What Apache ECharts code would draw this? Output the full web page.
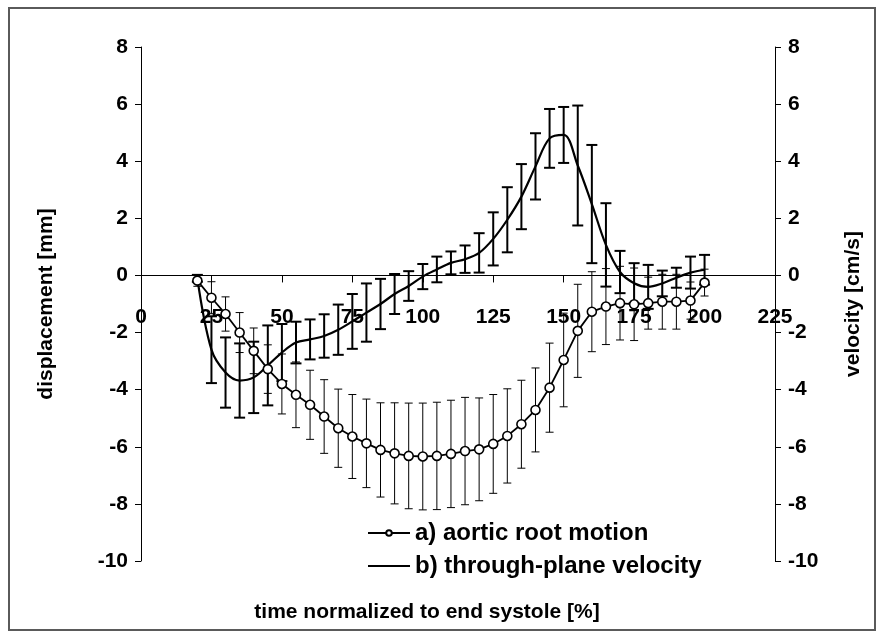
<!DOCTYPE html>
<html>
<head>
<meta charset="utf-8">
<script src="https://cdn.jsdelivr.net/npm/echarts@6/dist/echarts.min.js"></script>
<style>
  html, body { margin: 0; padding: 0; background: #fff; }
  #chart { width: 883px; height: 638px; }
</style>
</head>
<body>
<div id="chart"></div>
<script>
// time axis, % of end systole
const timePct = [20, 25, 30, 35, 40, 45, 50, 55, 60, 65, 70, 75, 80, 85, 90, 95, 100, 105, 110, 115,
                 120, 125, 130, 135, 140, 145, 150, 155, 160, 165, 170, 175, 180, 185, 190, 195, 200];

// a) aortic root motion, displacement [mm]: mean and SD
const motionMean = [-0.18, -0.78, -1.35, -2.0, -2.64, -3.28, -3.80, -4.18, -4.53, -4.94, -5.35, -5.64, -5.88,
                    -6.11, -6.23, -6.32, -6.34, -6.32, -6.25, -6.15, -6.09, -5.90, -5.62, -5.21, -4.71, -3.93,
                    -2.96, -1.94, -1.27, -1.09, -0.97, -1.01, -0.97, -0.92, -0.92, -0.88, -0.25];
const motionSD = [0.2, 0.56, 0.6, 0.7, 0.8, 0.85, 1.05, 1.15, 1.21, 1.29, 1.37, 1.47, 1.55, 1.65, 1.77, 1.85,
                  1.87, 1.88, 1.88, 1.88, 1.8, 1.73, 1.65, 1.54, 1.47, 1.56, 1.64, 1.63, 1.4, 1.33, 1.29, 1.27,
                  0.91, 0.96, 0.96, 0.65, 0.47];

// b) through-plane velocity [cm/s]: mean and SD
const velocityMean = [-0.1, -2.6, -3.4, -3.68, -3.57, -3.15, -2.7, -2.35, -2.24, -2.12, -1.9, -1.61, -1.3,
                      -1.0, -0.65, -0.37, -0.04, 0.21, 0.44, 0.57, 0.79, 1.28, 1.95, 2.76, 3.82, 4.8, 4.92,
                      3.85, 2.5, 1.07, 0.12, -0.27, -0.4, -0.28, -0.08, 0.1, 0.2];
const velocitySD = [0.12, 1.17, 1.23, 1.3, 1.25, 1.4, 1.0, 0.73, 0.7, 0.76, 0.88, 0.96, 1.02, 0.88, 0.7, 0.52,
                    0.44, 0.45, 0.4, 0.48, 0.69, 0.93, 1.14, 1.14, 1.16, 1.03, 0.98, 2.1, 2.07, 1.46, 0.74,
                    0.7, 0.77, 0.45, 0.35, 0.56, 0.52];

// axis ranges
const xRange = { min: 0, max: 225, step: 25 };
const yRange = { min: -10, max: 8, step: 2 };

const FONT = '"Liberation Sans", Arial, Helvetica, sans-serif';
const INK = '#000';
const GRID = { left: 141, right: 108, top: 47, bottom: 77 };

// vertical whisker with caps at mean - sd and mean + sd
function errorBars(name, axis, mean, sd, lineWidth, capWidth) {
  return {
    type: 'custom',
    name: name,
    yAxisIndex: axis,
    silent: true,
    z: 2,
    data: timePct.map((t, i) => [t, mean[i] - sd[i], mean[i] + sd[i]]),
    encode: { x: 0, y: [1, 2] },
    renderItem: function (params, api) {
      const lo = api.coord([api.value(0), api.value(1)]);
      const hi = api.coord([api.value(0), api.value(2)]);
      const h = capWidth / 2;
      const st = { stroke: INK, lineWidth: lineWidth };
      return {
        type: 'group',
        children: [
          { type: 'line', shape: { x1: lo[0], y1: lo[1], x2: hi[0], y2: hi[1] }, style: st },
          { type: 'line', shape: { x1: lo[0] - h, y1: lo[1], x2: lo[0] + h, y2: lo[1] }, style: st },
          { type: 'line', shape: { x1: hi[0] - h, y1: hi[1], x2: hi[0] + h, y2: hi[1] }, style: st }
        ]
      };
    }
  };
}

function yAxis(position, name, gap) {
  return {
    type: 'value',
    position: position,
    min: yRange.min, max: yRange.max, interval: yRange.step,
    name: name,
    nameLocation: 'middle',
    nameRotate: 90,
    nameGap: gap,
    nameTextStyle: { fontFamily: FONT, fontSize: 21, fontWeight: 'bold', color: INK },
    axisLine: { show: true, onZero: false, lineStyle: { color: INK, width: 1 } },
    axisTick: { show: true, inside: false, length: 6, lineStyle: { color: INK, width: 1 } },
    axisLabel: { margin: 13, fontFamily: FONT, fontSize: 21, fontWeight: 'bold', color: INK },
    splitLine: { show: false }
  };
}

const chart = echarts.init(document.getElementById('chart'), null, { renderer: 'canvas' });

chart.setOption({
  backgroundColor: '#fff',
  animation: false,
  grid: Object.assign({ containLabel: false }, GRID),
  title: {
    text: 'time normalized to end systole [%]',
    left: 422, top: 597, textAlign: 'center',
    textStyle: { fontFamily: FONT, fontSize: 21, fontWeight: 'bold', color: INK }
  },
  legend: {
    orient: 'vertical',
    left: 362, top: 516,
    itemWidth: 42, itemHeight: 7, itemGap: 9,
    textStyle: { fontFamily: FONT, fontSize: 24, fontWeight: 'bold', color: INK },
    data: [
      { name: 'a) aortic root motion' },
      { name: 'b) through-plane velocity',
        itemStyle: { color: 'rgba(0,0,0,0)', borderColor: 'rgba(0,0,0,0)', borderWidth: 0 } }
    ]
  },
  xAxis: {
    type: 'value',
    position: 'bottom',
    min: xRange.min, max: xRange.max, interval: xRange.step,
    axisLine: { show: true, onZero: false, lineStyle: { color: INK, width: 1 } },
    axisTick: { show: true, inside: false, length: 7, lineStyle: { color: INK, width: 1 } },
    axisLabel: { margin: 31, showMinLabel: true, showMaxLabel: true,
                 fontFamily: FONT, fontSize: 21, fontWeight: 'bold', color: INK },
    splitLine: { show: false }
  },
  yAxis: [
    yAxis('left', 'displacement [mm]', 84),
    yAxis('right', 'velocity [cm/s]', 68)
  ],
  graphic: [{
    type: 'rect', silent: true, z: -1,
    shape: { x: 9, y: 8, width: 866, height: 622 },
    style: { fill: 'none', stroke: '#5a5a5a', lineWidth: 2 }
  }],
  series: [
    errorBars('motion SD', 0, motionMean, motionSD, 1, 8),
    errorBars('velocity SD', 1, velocityMean, velocitySD, 2, 11),
    {
      name: 'b) through-plane velocity',
      type: 'line',
      yAxisIndex: 1,
      data: timePct.map((t, i) => [t, velocityMean[i]]),
      symbol: 'none',
      smooth: 0.35,
      z: 3,
      lineStyle: { color: INK, width: 2.2 },
      itemStyle: { color: INK }
    },
    {
      name: 'a) aortic root motion',
      type: 'line',
      yAxisIndex: 0,
      data: timePct.map((t, i) => [t, motionMean[i]]),
      symbol: 'circle',
      symbolSize: 9,
      z: 4,
      lineStyle: { color: INK, width: 1.8 },
      itemStyle: { color: '#fff', borderColor: INK, borderWidth: 1.6 }
    }
  ]
});

// lift the x axis (line, ticks and labels) up to the displacement zero level
const zeroY = chart.convertToPixel({ yAxisIndex: 0 }, 0);
const bottomY = chart.getHeight() - GRID.bottom;
chart.setOption({ xAxis: { offset: -(bottomY - zeroY) } });
</script>
</body>
</html>
